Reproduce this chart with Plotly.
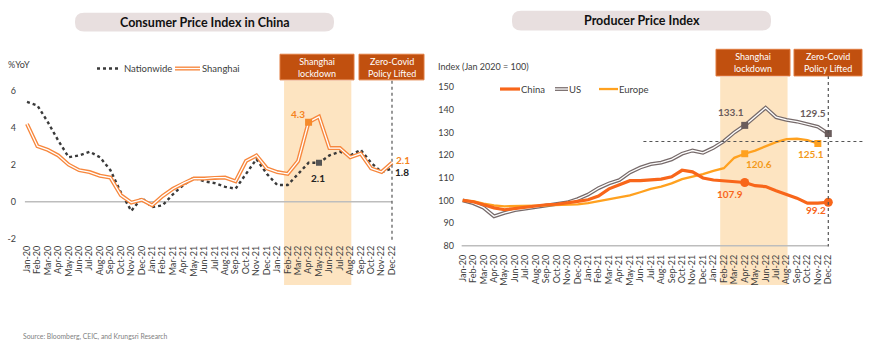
import plotly.graph_objects as go

# ---------------- data ----------------
months = ["Jan-20", "Feb-20", "Mar-20", "Apr-20", "May-20", "Jun-20", "Jul-20", "Aug-20", "Sep-20", "Oct-20", "Nov-20", "Dec-20",
          "Jan-21", "Feb-21", "Mar-21", "Apr-21", "May-21", "Jun-21", "Jul-21", "Aug-21", "Sep-21", "Oct-21", "Nov-21", "Dec-21",
          "Jan-22", "Feb-22", "Mar-22", "Apr-22", "May-22", "Jun-22", "Jul-22", "Aug-22", "Sep-22", "Oct-22", "Nov-22", "Dec-22"]

cpi_nationwide = [5.4, 5.2, 4.3, 3.3, 2.4, 2.5, 2.7, 2.4, 1.7, 0.5, -0.5, 0.2,
                  -0.3, -0.2, 0.4, 0.9, 1.3, 1.1, 1.0, 0.8, 0.7, 1.5, 2.3, 1.5,
                  0.9, 0.9, 1.5, 2.1, 2.1, 2.5, 2.7, 2.5, 2.8, 2.1, 1.6, 1.8]
cpi_shanghai = [4.2, 3.0, 2.8, 2.5, 2.0, 1.7, 1.6, 1.4, 1.3, 0.35, -0.05, 0.1,
                -0.2, 0.3, 0.7, 1.0, 1.25, 1.25, 1.3, 1.3, 1.1, 2.2, 2.5, 1.8,
                1.6, 1.5, 2.2, 4.3, 4.6, 2.9, 2.9, 2.4, 2.6, 1.8, 1.6, 2.1]

ppi_china = [100, 99.4, 98.1, 96.7, 95.9, 96.5, 97.1, 97.8, 98.1, 98.3, 98.8, 99.6,
             100.3, 101.9, 105.1, 107.0, 108.7, 108.7, 109.0, 109.4, 110.4, 113.3, 112.6, 109.9,
             109.0, 108.7, 108.3, 107.9, 106.5, 106.1, 104.3, 102.5, 101.0, 98.8, 98.8, 99.2]
ppi_us = [100, 98.8, 96.8, 93.0, 94.5, 95.7, 96.4, 97.1, 97.8, 98.4, 99.1, 100.6,
          102.6, 105.4, 107.5, 109.0, 112.3, 114.5, 116.0, 116.7, 118.1, 120.6, 122.0, 121.0,
          123.2, 126.1, 130.0, 133.1, 137.2, 140.9, 136.7, 135.5, 134.8, 133.6, 132.5, 129.5]
ppi_europe = [100, 99.7, 98.6, 97.8, 97.4, 97.4, 97.4, 97.7, 97.8, 98.0, 98.0, 98.3,
              98.8, 99.7, 100.7, 101.4, 102.2, 103.6, 105.1, 106.1, 107.5, 109.4, 110.4, 111.6,
              113.0, 114.2, 118.8, 120.6, 122.0, 123.9, 125.7, 127.0, 127.2, 126.6, 125.1]
ppi_ref_level = 126

cpi_yticks = [-2, 0, 2, 4, 6]
cpi_yticktext = ["-2", "0", "2", "4", "6"]
ppi_yticks = [80, 90, 100, 110, 120, 130, 140, 150]

lockdown_start, lockdown_end = "Feb-22", "Aug-22"
reopen_month = "Dec-22"

# ---------------- geometry helpers ----------------
W, H = 870, 356
FONT = "Lato"
idx = list(range(len(months)))


def px(x):
    return x / W


def py(y):
    return 1 - y / H


L_DOM = (20, 400)
L_RNG = (-0.671, 35.767)
R_DOM = (455, 867)
R_RNG = (-0.737, 38.705)
L_YDOM = (82, 242.4)
L_YRNG = (-2.02, 6.533)
R_YDOM = (78, 249.5)
R_YRNG = (79.9, 154.48)


def lx(i):
    return px(L_DOM[0] + (i - L_RNG[0]) * (L_DOM[1] - L_DOM[0]) / (L_RNG[1] - L_RNG[0]))


def rx(i):
    return px(R_DOM[0] + (i - R_RNG[0]) * (R_DOM[1] - R_DOM[0]) / (R_RNG[1] - R_RNG[0]))


def ly(v):
    return py(L_YDOM[1] - (v - L_YRNG[0]) * (L_YDOM[1] - L_YDOM[0]) / (L_YRNG[1] - L_YRNG[0]))


def ry(v):
    return py(R_YDOM[1] - (v - R_YRNG[0]) * (R_YDOM[1] - R_YDOM[0]) / (R_YRNG[1] - R_YRNG[0]))


C_SH = "#F7873D"
C_NAT = "#3A3A3A"
C_CN = "#F8661A"
C_EU = "#FFA11F"
C_US = "#766A6A"
C_SHADE = "#FDE4C1"
C_BOX = "#C1500F"
C_TXT = "#404040"

fig = go.Figure()

# ---------------- left chart (CPI) ----------------
fig.add_trace(go.Scatter(x=idx, y=cpi_nationwide, mode="lines", xaxis="x", yaxis="y",
                         line=dict(color=C_NAT, width=2.4, dash="dot"), hoverinfo="skip"))
fig.add_trace(go.Scatter(x=idx, y=cpi_shanghai, mode="lines", xaxis="x", yaxis="y",
                         line=dict(color=C_SH, width=4.0), hoverinfo="skip"))
fig.add_trace(go.Scatter(x=idx, y=cpi_shanghai, mode="lines", xaxis="x", yaxis="y",
                         line=dict(color="white", width=1.3), hoverinfo="skip"))
i_apr = months.index("Apr-22")
i_may = months.index("May-22")
i_dec = months.index("Dec-22")
i_nov = months.index("Nov-22")
fig.add_trace(go.Scatter(x=[i_apr], y=[cpi_shanghai[i_apr]], mode="markers", xaxis="x", yaxis="y",
                         marker=dict(symbol="square", size=7, color="#F58A2A"), hoverinfo="skip"))
fig.add_trace(go.Scatter(x=[i_may], y=[cpi_nationwide[i_may]], mode="markers", xaxis="x", yaxis="y",
                         marker=dict(symbol="square", size=6, color="#555555"), hoverinfo="skip"))

# ---------------- right chart (PPI) ----------------
fig.add_trace(go.Scatter(x=idx, y=ppi_us, mode="lines", xaxis="x2", yaxis="y2",
                         line=dict(color=C_US, width=3.8), hoverinfo="skip"))
fig.add_trace(go.Scatter(x=idx, y=ppi_us, mode="lines", xaxis="x2", yaxis="y2",
                         line=dict(color="white", width=1.3), hoverinfo="skip"))
fig.add_trace(go.Scatter(x=idx[:len(ppi_europe)], y=ppi_europe, mode="lines", xaxis="x2", yaxis="y2",
                         line=dict(color=C_EU, width=2.3), hoverinfo="skip"))
fig.add_trace(go.Scatter(x=idx, y=ppi_china, mode="lines", xaxis="x2", yaxis="y2",
                         line=dict(color=C_CN, width=3.2), hoverinfo="skip"))
fig.add_trace(go.Scatter(x=[i_apr, i_dec], y=[ppi_us[i_apr], ppi_us[i_dec]], mode="markers", xaxis="x2", yaxis="y2",
                         marker=dict(symbol="square", size=7, color="#6A5C5C"), hoverinfo="skip"))
fig.add_trace(go.Scatter(x=[i_apr, i_nov], y=[ppi_europe[i_apr], ppi_europe[i_nov]], mode="markers", xaxis="x2", yaxis="y2",
                         marker=dict(symbol="square", size=7, color=C_EU), hoverinfo="skip"))
fig.add_trace(go.Scatter(x=[i_apr, i_dec], y=[ppi_china[i_apr], ppi_china[i_dec]], mode="markers", xaxis="x2", yaxis="y2",
                         marker=dict(symbol="circle", size=9, color=C_CN), hoverinfo="skip"))

shapes = []


def rrect(x0, y0, x1, y1, r, color):
    rx_, ry_ = r / W, r / H
    X0, X1 = px(x0), px(x1)
    Y0, Y1 = py(y0), py(y1)  # Y0 top, Y1 bottom
    path = (f"M {X0+rx_},{Y0} L {X1-rx_},{Y0} Q {X1},{Y0} {X1},{Y0-ry_} "
            f"L {X1},{Y1+ry_} Q {X1},{Y1} {X1-rx_},{Y1} L {X0+rx_},{Y1} "
            f"Q {X0},{Y1} {X0},{Y1+ry_} L {X0},{Y0-ry_} Q {X0},{Y0} {X0+rx_},{Y0} Z")
    return dict(type="path", xref="paper", yref="paper", path=path, fillcolor=color,
                line=dict(width=0), layer="below")


# title pills
shapes.append(rrect(75, 13, 334, 32, 9, "#E8DFDF"))
shapes.append(rrect(512, 11, 771, 31, 9, "#E8DFDF"))

s0 = months.index(lockdown_start) - 0.35
s1 = months.index(lockdown_end) + 0.1
ir = months.index(reopen_month)

# shaded lockdown periods
shapes.append(dict(type="rect", xref="paper", yref="paper", x0=lx(s0), x1=lx(s1), y0=py(289), y1=py(82),
                   fillcolor=C_SHADE, line=dict(width=0), layer="below"))
shapes.append(dict(type="rect", xref="paper", yref="paper", x0=rx(s0), x1=rx(s1), y0=py(289), y1=py(78),
                   fillcolor=C_SHADE, line=dict(width=0), layer="below"))
# baselines
shapes.append(dict(type="line", xref="paper", yref="paper", x0=lx(-0.2), x1=lx(35), y0=ly(0), y1=ly(0),
                   line=dict(color="#BDBDBD", width=1.5), layer="below"))
shapes.append(dict(type="line", xref="paper", yref="paper", x0=rx(-0.1), x1=rx(35), y0=ry(80), y1=ry(80),
                   line=dict(color="#BDBDBD", width=1.5), layer="below"))
# dashed verticals
shapes.append(dict(type="line", xref="paper", yref="paper", x0=lx(ir), x1=lx(ir), y0=py(82), y1=py(246),
                   line=dict(color="#555555", width=1.2, dash="dot")))
shapes.append(dict(type="line", xref="paper", yref="paper", x0=rx(ir), x1=rx(ir), y0=py(77), y1=py(250),
                   line=dict(color="#555555", width=1.2, dash="dot")))
# reference horizontal dotted line
shapes.append(dict(type="line", xref="paper", yref="paper", x0=rx(17.3), x1=px(865), y0=ry(ppi_ref_level), y1=ry(ppi_ref_level),
                   line=dict(color="#555555", width=1.2, dash="dot")))

# event boxes
for (x0, x1, y0, y1) in [(280, 354, 55, 81), (359, 424, 55, 81), (716, 790, 50, 77), (794, 862, 50, 77)]:
    shapes.append(dict(type="rect", xref="paper", yref="paper", x0=px(x0), x1=px(x1), y0=py(y1), y1=py(y0),
                       fillcolor=C_BOX, line=dict(color="#E07A3E", width=1)))

# legend samples (left)
shapes.append(dict(type="line", xref="paper", yref="paper", x0=px(97), x1=px(120), y0=py(69.5), y1=py(69.5),
                   line=dict(color=C_NAT, width=2.4, dash="dot")))
shapes.append(dict(type="line", xref="paper", yref="paper", x0=px(175), x1=px(200), y0=py(69.5), y1=py(69.5),
                   line=dict(color=C_SH, width=4.0)))
shapes.append(dict(type="line", xref="paper", yref="paper", x0=px(175), x1=px(200), y0=py(69.5), y1=py(69.5),
                   line=dict(color="white", width=1.3)))
# legend samples (right)
shapes.append(dict(type="line", xref="paper", yref="paper", x0=px(500), x1=px(520), y0=py(90.3), y1=py(90.3),
                   line=dict(color=C_CN, width=3.2)))
shapes.append(dict(type="line", xref="paper", yref="paper", x0=px(555), x1=px(568), y0=py(90.3), y1=py(90.3),
                   line=dict(color=C_US, width=3.8)))
shapes.append(dict(type="line", xref="paper", yref="paper", x0=px(555), x1=px(568), y0=py(90.3), y1=py(90.3),
                   line=dict(color="white", width=1.3)))
shapes.append(dict(type="line", xref="paper", yref="paper", x0=px(599), x1=px(618), y0=py(90.3), y1=py(90.3),
                   line=dict(color=C_EU, width=2.3)))

ann = []


def txt(x, y, text, size=10, color=C_TXT, bold=False, xanchor="left", align="left"):
    t = f"<b>{text}</b>" if bold else text
    ann.append(dict(xref="paper", yref="paper", x=px(x), y=py(y), text=t, showarrow=False,
                    xanchor=xanchor, yanchor="middle", align=align, borderpad=0,
                    font=dict(family=FONT, size=size, color=color)))


txt(204.5, 22.5, "Consumer Price Index in China", size=12.5, color="#111111", bold=True, xanchor="center")
txt(641.5, 21, "Producer Price Index", size=12.5, color="#111111", bold=True, xanchor="center")
txt(7, 65, "%YoY", size=9)
txt(437, 67, "Index (Jan 2020 = 100)", size=9)
txt(123, 69.5, "Nationwide", size=9.5)
txt(201, 69.5, "Shanghai", size=9.5)
txt(520, 90.3, "China", size=9.5)
txt(568, 90.3, "US", size=9.5)
txt(618, 90.3, "Europe", size=9.5)
txt(317, 68, "Shanghai<br>lockdown", size=9, color="white", xanchor="center", align="center")
txt(391.5, 68, "Zero-Covid<br>Policy Lifted", size=9, color="white", xanchor="center", align="center")
txt(753, 63.5, "Shanghai<br>lockdown", size=9, color="white", xanchor="center", align="center")
txt(828, 63.5, "Zero-Covid<br>Policy Lifted", size=9, color="white", xanchor="center", align="center")
txt(22, 341.5, "Source: Bloomberg, CEIC, and Krungsri Research", size=6.8, color="#7F7F7F")


def dlab(xa, ya, i, v, text, color, xs, ys, xanchor="center"):
    ann.append(dict(xref=xa, yref=ya, x=i, y=v, text=f"<b>{text}</b>", showarrow=False,
                    xanchor=xanchor, yanchor="middle", xshift=xs, yshift=ys,
                    font=dict(family=FONT, size=10, color=color)))


dlab("x", "y", i_apr, cpi_shanghai[i_apr], f"{cpi_shanghai[i_apr]:.1f}", "#F58220", -11, 8)
dlab("x", "y", i_may, cpi_nationwide[i_may], f"{cpi_nationwide[i_may]:.1f}", "#222222", -1, -15)
dlab("x", "y", i_dec, cpi_shanghai[i_dec], f"{cpi_shanghai[i_dec]:.1f}", "#F58220", 2, 3, "left")
dlab("x", "y", i_dec, cpi_nationwide[i_dec], f"{cpi_nationwide[i_dec]:.1f}", "#222222", 1, -4, "left")

dlab("x2", "y2", i_apr, ppi_us[i_apr], f"{ppi_us[i_apr]:.1f}", "#6A5C5C", -14, 13)
dlab("x2", "y2", i_dec, ppi_us[i_dec], f"{ppi_us[i_dec]:.1f}", "#6A5C5C", -15, 21)
dlab("x2", "y2", i_apr, ppi_europe[i_apr], f"{ppi_europe[i_apr]:.1f}", "#F39A1C", 14, -10)
dlab("x2", "y2", i_nov, ppi_europe[i_nov], f"{ppi_europe[i_nov]:.1f}", "#F39A1C", -7, -10)
dlab("x2", "y2", i_apr, ppi_china[i_apr], f"{ppi_china[i_apr]:.1f}", C_CN, -15, -11)
dlab("x2", "y2", i_dec, ppi_china[i_dec], f"{ppi_china[i_dec]:.1f}", C_CN, -12, -8)

axis_common = dict(showgrid=False, zeroline=False, showline=False, ticks="", fixedrange=True)

fig.update_layout(
    width=W, height=H, margin=dict(l=0, r=0, t=0, b=0),
    paper_bgcolor="white", plot_bgcolor="rgba(0,0,0,0)",
    showlegend=False,
    font=dict(family=FONT, color=C_TXT),
    xaxis=dict(domain=[px(L_DOM[0]), px(L_DOM[1])], range=list(L_RNG), anchor="y",
               tickvals=idx, ticktext=months, tickangle=-90, ticklabelstandoff=4,
               tickfont=dict(family=FONT, size=9, color=C_TXT), **axis_common),
    yaxis=dict(domain=[py(L_YDOM[1]), py(L_YDOM[0])], range=list(L_YRNG), anchor="x",
               tickvals=cpi_yticks, ticktext=cpi_yticktext, ticklabelstandoff=3,
               tickfont=dict(family=FONT, size=9, color=C_TXT), **axis_common),
    xaxis2=dict(domain=[px(R_DOM[0]), px(R_DOM[1])], range=list(R_RNG), anchor="y2",
                tickvals=idx, ticktext=months, tickangle=-90, ticklabelstandoff=6,
                tickfont=dict(family=FONT, size=9, color=C_TXT), **axis_common),
    yaxis2=dict(domain=[py(R_YDOM[1]), py(R_YDOM[0])], range=list(R_YRNG), anchor="x2",
                tickvals=ppi_yticks, tickfont=dict(family=FONT, size=9, color=C_TXT), **axis_common),
    shapes=shapes,
    annotations=ann,
)

fig.write_html("out.html", config={"displayModeBar": False},
               post_script="document.body.style.margin='0';document.body.style.overflow='hidden';")
